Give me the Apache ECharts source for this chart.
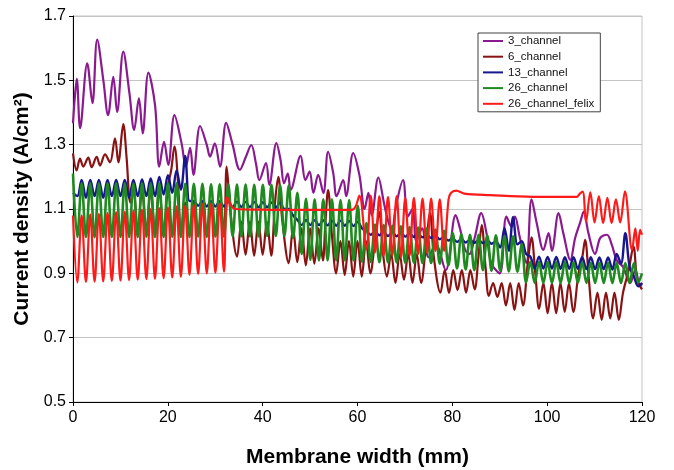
<!DOCTYPE html>
<html>
<head>
<meta charset="utf-8">
<script src="https://cdn.jsdelivr.net/npm/echarts@6/dist/echarts.min.js"></script>
<style>
  html, body { margin: 0; padding: 0; background: #ffffff; }
  #chart { width: 674px; height: 470px; }
</style>
</head>
<body>
<div id="chart"></div>
<script>
// Axis ticks
const xTicks = [0, 20, 40, 60, 80, 100, 120];
const yTicks = [0.5, 0.7, 0.9, 1.1, 1.3, 1.5, 1.7];

const seriesNames = ['3_channel', '6_channel', '13_channel', '26_channel', '26_channel_felix'];

// Sample positions (mm) shared by the 13- and 26-channel profiles
const xs = [
  0, 0.91, 1.82, 2.73, 3.64, 4.55, 5.46, 6.37, 7.28, 8.19,
  9.10, 10.01, 10.92, 11.83, 12.74, 13.65, 14.56, 15.47, 16.38, 17.29,
  18.20, 19.11, 20.02, 20.93, 21.84, 22.75, 23.66, 24.57, 25.48, 26.39,
  27.30, 28.21, 29.12, 30.03, 30.94, 31.85, 32.76, 33.67, 34.58, 35.49,
  36.40, 37.31, 38.22, 39.13, 40.04, 40.95, 41.86, 42.77, 43.68, 44.59,
  45.50, 46.41, 47.32, 48.23, 49.14, 50.05, 50.96, 51.87, 52.78, 53.69,
  54.60, 55.51, 56.42, 57.33, 58.24, 59.15, 60.06, 60.97, 61.88, 62.79,
  63.70, 64.61, 65.52, 66.43, 67.34, 68.25, 69.16, 70.07, 70.98, 71.89,
  72.80, 73.71, 74.62, 75.53, 76.44, 77.35, 78.26, 79.17, 80.08, 80.99,
  81.90, 82.81, 83.72, 84.63, 85.54, 86.45, 87.36, 88.27, 89.18, 90.09,
  91.00, 91.91, 92.82, 93.73, 94.64, 95.55, 96.46, 97.37, 98.28, 99.19,
  100.10, 101.01, 101.92, 102.83, 103.74, 104.65, 105.56, 106.47, 107.38, 108.29,
  109.20, 110.11, 111.02, 111.93, 112.84, 113.75, 114.66, 115.57, 116.48, 117.39,
  118.30, 119.21, 120
];

// 26_channel current density at xs (A/cm2)
const ch26 = [
  1.21, 1.013, 1.18, 1.013, 1.18, 1.012, 1.18, 1.013, 1.18, 1.013,
  1.18, 1.013, 1.18, 1.013, 1.179, 1.013, 1.18, 1.014, 1.18, 1.013,
  1.18, 1.013, 1.18, 1.014, 1.18, 1.013, 1.178, 1.013, 1.178, 1.014,
  1.178, 1.013, 1.177, 1.014, 1.177, 1.014, 1.176, 1.015, 1.176, 1.015,
  1.176, 1.015, 1.175, 1.015, 1.175, 1.016, 1.175, 1.016, 1.174, 1.016,
  1.173, 1.01, 1.15, 0.96, 1.132, 0.942, 1.13, 0.94, 1.13, 0.94,
  1.13, 0.94, 1.128, 0.94, 1.128, 0.94, 1.11, 0.936, 1.056, 0.935,
  1.052, 0.935, 1.05, 0.934, 1.048, 0.934, 1.046, 0.933, 1.044, 0.933,
  1.042, 0.932, 1.04, 0.932, 1.036, 0.93, 1.032, 0.925, 1.025, 0.915,
  1.022, 0.912, 1.02, 0.91, 1.02, 0.91, 1.018, 0.908, 1.018, 0.908,
  1.016, 0.906, 1.015, 0.905, 0.99, 0.872, 0.936, 0.87, 0.936, 0.87,
  0.935, 0.87, 0.935, 0.87, 0.935, 0.87, 0.934, 0.87, 0.934, 0.87,
  0.933, 0.87, 0.933, 0.87, 0.933, 0.87, 0.932, 0.87, 0.932, 0.87,
  0.932, 0.872, 0.90
];

// 13_channel current density at xs (A/cm2)
const ch13 = [
  1.15, 1.14, 1.19, 1.135, 1.19, 1.14, 1.19, 1.135, 1.19, 1.14,
  1.19, 1.14, 1.19, 1.135, 1.19, 1.14, 1.192, 1.14, 1.195, 1.14,
  1.2, 1.145, 1.205, 1.15, 1.22, 1.16, 1.265, 1.125, 1.125, 1.11,
  1.125, 1.108, 1.125, 1.108, 1.124, 1.108, 1.124, 1.106, 1.123, 1.106,
  1.122, 1.106, 1.122, 1.105, 1.121, 1.105, 1.12, 1.104, 1.12, 1.1,
  1.1, 1.08, 1.066, 1.05, 1.066, 1.05, 1.065, 1.05, 1.065, 1.049,
  1.064, 1.048, 1.064, 1.048, 1.063, 1.047, 1.06, 1.04, 1.032, 1.02,
  1.03, 1.018, 1.03, 1.016, 1.028, 1.015, 1.026, 1.014, 1.025, 1.013,
  1.022, 1.012, 1.02, 1.01, 1.016, 1.006, 1.012, 1.002, 1.008, 0.998,
  1.006, 0.996, 1.004, 0.995, 1.003, 0.994, 1.002, 0.992, 1.0, 0.98,
  1.04, 0.97, 1.075, 0.99, 1.0, 0.96, 0.952, 0.915, 0.952, 0.915,
  0.951, 0.915, 0.951, 0.914, 0.95, 0.914, 0.95, 0.914, 0.95, 0.913,
  0.95, 0.913, 0.949, 0.913, 0.949, 0.912, 0.96, 0.93, 1.025, 0.92,
  0.89, 0.86, 0.87
];

// 3_channel profile [x (mm), current density (A/cm2)]
const ch3 = [
  [0, 1.366], [0.4, 1.45], [0.8, 1.505], [1.5, 1.351], [3.0, 1.553], [4.1, 1.429],
  [5.1, 1.627], [6.4, 1.50], [7.4, 1.392], [8.5, 1.511], [9.3, 1.402], [10.6, 1.589],
  [11.9, 1.46], [12.9, 1.346], [13.9, 1.444], [14.7, 1.335], [15.9, 1.524], [17.3, 1.423],
  [18.2, 1.232], [19.2, 1.309], [20.1, 1.237], [21.4, 1.392], [22.9, 1.304], [23.8, 1.232],
  [24.7, 1.29], [25.4, 1.206], [26.8, 1.358], [28.2, 1.30], [28.9, 1.263], [29.9, 1.304],
  [31.0, 1.232], [32.3, 1.368], [33.6, 1.304], [35.2, 1.222], [36.4, 1.26], [37.6, 1.299],
  [38.6, 1.24], [39.3, 1.19], [40.7, 1.243], [41.4, 1.175], [42.9, 1.305], [43.8, 1.25],
  [44.5, 1.18], [45.3, 1.21], [45.9, 1.16], [48.0, 1.265], [49.0, 1.19], [49.9, 1.216],
  [50.7, 1.15], [51.7, 1.206], [52.8, 1.15], [53.8, 1.278], [54.9, 1.21], [55.6, 1.14],
  [57.0, 1.19], [57.6, 1.14], [59.1, 1.274], [60.4, 1.206], [61.5, 1.10], [62.3, 1.15],
  [63.0, 1.08], [64.4, 1.198], [65.6, 1.117], [66.4, 1.066], [67.3, 1.03], [68.0, 1.10],
  [69.6, 1.19], [70.6, 1.076], [71.6, 1.10], [72.4, 1.0], [73.6, 1.04], [75.0, 0.95],
  [76.5, 0.99], [78.6, 0.91], [80.7, 1.081], [81.6, 1.04], [82.7, 0.973], [83.6, 0.96],
  [84.7, 1.01], [86.1, 1.087], [87.2, 1.025], [88.2, 0.932], [90.0, 0.90], [91.4, 1.076],
  [92.5, 1.045], [93.2, 1.076], [94.2, 1.014], [95.6, 0.932], [96.7, 1.13], [97.8, 1.056],
  [99.2, 0.973], [100.3, 1.025], [101.0, 0.97], [102.4, 1.087], [103.4, 1.025], [104.9, 0.942],
  [105.9, 1.01], [107.0, 1.06], [107.7, 1.092], [108.7, 1.025], [110.1, 0.96], [111.2, 1.01],
  [112.6, 1.02], [113.6, 0.99], [114.7, 0.94], [116.0, 0.92], [117.5, 0.87], [118.6, 0.91],
  [119.6, 0.86], [120, 0.87]
];

// 6_channel profile [x (mm), current density (A/cm2)]
const ch6 = [
  [0, 1.273], [0.77, 1.22], [1.47, 1.257], [2.17, 1.232], [3.23, 1.26], [3.94, 1.23],
  [4.99, 1.262], [5.7, 1.235], [6.75, 1.27], [7.8, 1.245], [8.86, 1.32], [9.56, 1.245],
  [10.6, 1.364], [11.3, 1.26], [12.1, 1.12], [12.74, 1.16], [13.65, 1.03], [14.56, 1.16],
  [15.47, 1.03], [16.38, 1.16], [17.29, 1.03], [18.2, 1.16], [19.11, 1.03], [20.02, 1.17],
  [20.7, 1.22], [21.4, 1.295], [22.2, 1.17], [22.75, 1.02], [23.66, 1.12], [24.57, 1.02],
  [25.48, 1.12], [26.39, 1.02], [27.3, 1.12], [28.21, 1.02], [29.12, 1.12], [30.03, 1.02],
  [30.94, 1.12], [31.85, 1.03], [32.4, 1.232], [33.2, 1.09], [34.6, 0.952], [35.5, 1.06],
  [36.4, 0.958], [37.3, 1.06], [38.2, 0.955], [39.1, 1.06], [40.0, 0.958], [40.9, 1.06],
  [41.8, 0.955], [42.6, 1.12], [43.3, 1.20], [44.1, 1.07], [45.5, 0.932], [46.4, 1.04],
  [47.3, 0.935], [48.2, 1.04], [49.1, 0.925], [50.0, 1.04], [50.9, 0.93], [51.8, 1.04],
  [52.7, 0.94], [53.2, 1.05], [53.8, 1.159], [54.6, 1.02], [55.5, 0.90], [56.4, 1.0],
  [57.3, 0.895], [58.2, 1.0], [59.1, 0.89], [60.0, 1.0], [60.9, 0.89], [61.8, 1.0],
  [62.7, 0.90], [63.7, 1.0], [64.6, 1.09], [65.4, 0.96], [66.2, 0.89], [67.1, 0.96],
  [68.0, 0.87], [68.9, 0.96], [69.8, 0.88], [70.7, 0.96], [71.6, 0.87], [72.5, 0.96],
  [73.4, 0.87], [74.4, 0.98], [75.3, 1.087], [76.1, 0.95], [77.5, 0.84], [78.4, 0.91],
  [79.3, 0.839], [80.2, 0.91], [81.1, 0.848], [82.0, 0.91], [82.9, 0.84], [83.8, 0.91],
  [84.7, 0.85], [85.5, 0.95], [86.2, 1.05], [87.0, 0.92], [87.7, 0.83], [88.6, 0.87],
  [89.5, 0.827], [90.4, 0.87], [91.3, 0.80], [92.2, 0.87], [93.1, 0.786], [94.0, 0.87],
  [94.9, 0.80], [95.9, 0.93], [96.7, 1.012], [97.5, 0.90], [98.3, 0.79], [99.2, 0.87],
  [100.1, 0.776], [101.0, 0.87], [101.9, 0.776], [102.8, 0.87], [103.7, 0.78], [104.6, 0.87],
  [105.5, 0.78], [106.6, 0.90], [107.4, 0.95], [108.0, 1.004], [108.8, 0.88], [109.7, 0.76],
  [110.6, 0.84], [111.5, 0.755], [112.4, 0.84], [113.3, 0.76], [114.2, 0.84], [115.1, 0.755],
  [116.0, 0.84], [117.2, 0.91], [118.2, 0.983], [119.0, 0.88], [120, 0.85]
];

// 26_channel_felix profile [x (mm), current density (A/cm2)]
const ch26felix = [
  [0, 1.08], [0.91, 0.872], [1.82, 1.080], [2.73, 0.873], [3.64, 1.083], [4.55, 0.874],
  [5.46, 1.085], [6.37, 0.875], [7.28, 1.088], [8.19, 0.876], [9.10, 1.090], [10.01, 0.877],
  [10.92, 1.092], [11.83, 0.879], [12.74, 1.095], [13.65, 0.880], [14.56, 1.098], [15.47, 0.882],
  [16.38, 1.100], [17.29, 0.883], [18.20, 1.103], [19.11, 0.885], [20.02, 1.105], [20.93, 0.887],
  [21.84, 1.108], [22.75, 0.889], [23.66, 1.110], [24.57, 0.895], [25.48, 1.113], [26.39, 0.898],
  [27.30, 1.115], [28.21, 0.900], [29.12, 1.117], [30.03, 0.902], [30.94, 1.118], [31.85, 0.905],
  [32.5, 1.137], [33.3, 1.112], [34.2, 1.100], [40, 1.098], [47, 1.097], [58.8, 1.097],
  [59.6, 1.108], [60.4, 1.142], [61.88, 0.975], [62.79, 1.142], [63.70, 0.965], [64.61, 1.14],
  [65.52, 0.955], [66.43, 1.138], [67.34, 0.955], [68.25, 1.14], [69.16, 0.95], [70.07, 1.135],
  [70.98, 0.955], [71.89, 1.135], [72.80, 0.96], [73.71, 1.132], [74.62, 0.965], [75.53, 1.132],
  [76.44, 0.97], [77.35, 1.13], [78.26, 0.97], [79.2, 1.13], [79.7, 1.15], [80.8, 1.157],
  [82.5, 1.148], [88, 1.143], [97, 1.138], [106.2, 1.138], [106.9, 1.148], [107.5, 1.154],
  [108.2, 1.06], [109.1, 1.152], [110.0, 1.058], [110.9, 1.14], [111.8, 1.056], [112.7, 1.135],
  [113.6, 1.056], [114.5, 1.13], [115.4, 1.058], [116.4, 1.155], [117.9, 0.973], [118.6, 1.04],
  [119.1, 0.97], [119.6, 1.035], [120, 1.02]
];

const colors = ['#8a1a8f', '#8b1212', '#16168e', '#1f8a1f', '#ff1a1a'];
const widths = [2.2, 2.2, 2.4, 2.6, 2.2];
const FONT = "'Liberation Sans', Arial, sans-serif";

const profiles = [
  ch3,
  ch6,
  xs.map((x, i) => [x, ch13[i]]),
  xs.map((x, i) => [x, ch26[i]]),
  ch26felix
];

const chart = echarts.init(document.getElementById('chart'), null, { renderer: 'canvas' });

chart.setOption({
  animation: false,
  backgroundColor: '#ffffff',
  grid: {
    left: 73, right: 32, top: 16, bottom: 68,
    outerBoundsMode: 'none',
    containLabel: false,
    show: true, borderColor: '#c4c4c4', borderWidth: 1, backgroundColor: 'transparent'
  },
  legend: {
    orient: 'vertical',
    left: 478, top: 33,
    data: seriesNames,
    icon: 'rect',
    itemWidth: 20, itemHeight: 2,
    itemGap: 3.7,
    padding: [2, 6, 2, 5],
    backgroundColor: '#ffffff',
    borderColor: '#404040', borderWidth: 1,
    textStyle: { fontFamily: FONT, fontSize: 11.5, color: '#111', lineHeight: 12 }
  },
  xAxis: {
    type: 'value',
    min: xTicks[0], max: xTicks[xTicks.length - 1], interval: xTicks[1] - xTicks[0],
    name: 'Membrane width (mm)',
    nameLocation: 'middle', nameGap: 45,
    nameTextStyle: { fontFamily: FONT, fontSize: 21, fontWeight: 'bold', color: '#000' },
    axisLine: { show: true, lineStyle: { color: '#000', width: 1 } },
    axisTick: { show: true, length: 4, lineStyle: { color: '#000' } },
    axisLabel: { fontFamily: FONT, fontSize: 16, color: '#000', margin: 8 },
    splitLine: { show: false }
  },
  yAxis: {
    type: 'value',
    min: yTicks[0], max: yTicks[yTicks.length - 1], interval: 0.2,
    name: 'Current density (A/cm²)',
    nameLocation: 'middle', nameGap: 38, nameRotate: 90,
    nameTextStyle: { fontFamily: FONT, fontSize: 21, fontWeight: 'bold', color: '#000' },
    axisLine: { show: true, lineStyle: { color: '#000', width: 1 } },
    axisTick: { show: true, length: 4, lineStyle: { color: '#000' } },
    axisLabel: { fontFamily: FONT, fontSize: 16, color: '#000', margin: 7,
      formatter: v => v.toFixed(1) },
    splitLine: { show: true, lineStyle: { color: '#c4c4c4', width: 1.2 } }
  },
  series: seriesNames.map((name, i) => ({
    name,
    type: 'line',
    data: profiles[i],
    showSymbol: false,
    symbol: 'none',
    smooth: 0.35,
    lineStyle: { color: colors[i], width: widths[i] },
    itemStyle: { color: colors[i] },
    emphasis: { disabled: true }
  }))
});
</script>
</body>
</html>
